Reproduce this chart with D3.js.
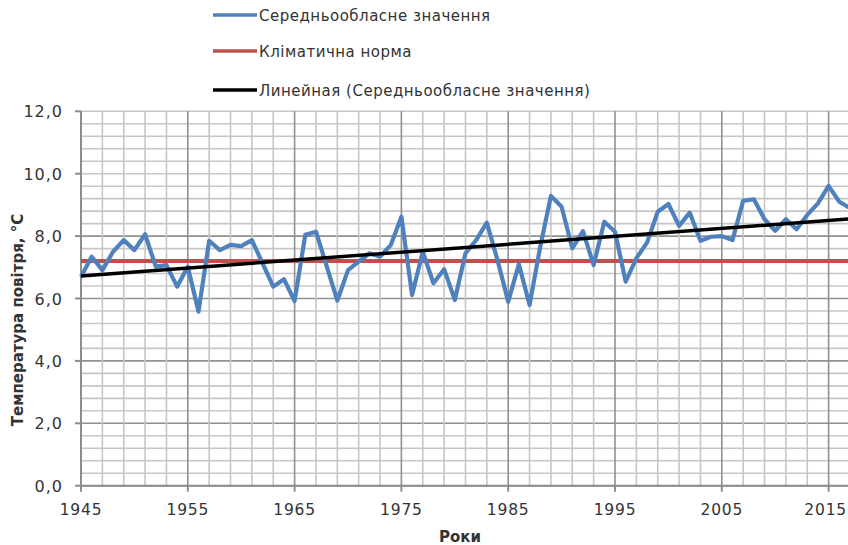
<!DOCTYPE html>
<html>
<head>
<meta charset="utf-8">
<script src="https://cdn.jsdelivr.net/npm/d3@7"></script>
<style>
  body { margin: 0; background: #fff; }
  text { font-family: "DejaVu Sans", sans-serif; fill: #333; }
</style>
</head>
<body>
<script>
const years = d3.range(1945, 2018)
const temps = [
  6.70, 7.34, 6.91, 7.50, 7.87, 7.55, 8.06, 7.02, 7.07, 6.38,
  7.02, 5.58, 7.85, 7.55, 7.72, 7.68, 7.87, 7.13, 6.38, 6.62,
  5.92, 8.04, 8.14, 7.04, 5.93, 6.91, 7.18, 7.45, 7.34, 7.71,
  8.62, 6.11, 7.50, 6.49, 6.94, 5.95, 7.45, 7.87, 8.43, 7.23,
  5.90, 7.10, 5.79, 7.66, 9.29, 8.94, 7.61, 8.16, 7.07, 8.46,
  8.14, 6.54, 7.29, 7.79, 8.78, 9.03, 8.33, 8.75, 7.85, 7.98,
  8.00, 7.87, 9.13, 9.18, 8.54, 8.17, 8.54, 8.22, 8.68, 9.05,
  9.61, 9.10, 8.90
]
const norm = 7.2
const yTicks = [0, 2, 4, 6, 8, 10, 12]
const xTicks = [1945, 1955, 1965, 1975, 1985, 1995, 2005, 2015]
const legendLabels = ["Середньообласне значення", "Кліматична норма", "Линейная (Середньообласне значення)"]

const W = 848, H = 545
const svg = d3.select("body").append("svg")
    .attr("width", W)
    .attr("height", H)

const x = d3.scaleLinear().domain([1945, 2015]).range([81, 828.6])
const y = d3.scaleLinear().domain([0, 12]).range([485.7, 111.3])

// сітка
const minorY = d3.range(0, 12.01, 0.4)
svg.append("g").selectAll("line")
    .data(minorY)
    .enter().append("line")
    .attr("x1", x(1945)).attr("x2", W)
    .attr("y1", d => y(d)).attr("y2", d => y(d))
    .attr("stroke", d => Math.abs(d / 2 - Math.round(d / 2)) < 0.01 && d < 9 ? "#909090" : "#c6c6c6")
    .attr("stroke-width", 1.6)

const minorX = d3.range(1947, 2018, 2)
svg.append("g").selectAll("line")
    .data(minorX)
    .enter().append("line")
    .attr("x1", d => x(d)).attr("x2", d => x(d))
    .attr("y1", y(12)).attr("y2", y(0))
    .attr("stroke", d => (d - 1945) % 10 === 0 ? "#909090" : "#c6c6c6")
    .attr("stroke-width", 1.6)

// осі
svg.append("line")
    .attr("x1", x(1945)).attr("x2", x(1945))
    .attr("y1", y(12)).attr("y2", y(0))
    .attr("stroke", "#8c8c8c").attr("stroke-width", 2)
svg.append("line")
    .attr("x1", x(1945)).attr("x2", W)
    .attr("y1", y(0)).attr("y2", y(0))
    .attr("stroke", "#8c8c8c").attr("stroke-width", 2)

svg.append("g").selectAll("line")
    .data(yTicks)
    .enter().append("line")
    .attr("x1", x(1945) - 6).attr("x2", x(1945))
    .attr("y1", d => y(d)).attr("y2", d => y(d))
    .attr("stroke", "#8c8c8c").attr("stroke-width", 2)

svg.append("g").selectAll("line")
    .data(xTicks)
    .enter().append("line")
    .attr("x1", d => x(d)).attr("x2", d => x(d))
    .attr("y1", y(0)).attr("y2", y(0) + 6)
    .attr("stroke", "#8c8c8c").attr("stroke-width", 2)

svg.append("g").selectAll("text")
    .data(yTicks)
    .enter().append("text")
    .attr("x", 63)
    .attr("y", d => y(d) + 6)
    .attr("text-anchor", "end")
    .style("font-size", "16px")
    .style("letter-spacing", "1px")
    .text(d => d.toFixed(1).replace(".", ","))

svg.append("g").selectAll("text")
    .data(xTicks)
    .enter().append("text")
    .attr("x", d => x(d))
    .attr("y", 515)
    .attr("text-anchor", "middle")
    .style("font-size", "15.5px")
    .style("letter-spacing", "0.8px")
    .text(d => d)
    .each(function (d) {
        // не виходити за правий край
        const w = this.getComputedTextLength()
        if (x(d) + w / 2 > W - 1) d3.select(this).attr("x", W - 1 - w / 2)
    })

svg.append("text")
    .attr("x", 460).attr("y", 542)
    .attr("text-anchor", "middle")
    .style("font-size", "15px")
    .style("font-weight", "bold")
    .text("Роки")

svg.append("text")
    .attr("transform", "translate(23,320) rotate(-90)")
    .attr("text-anchor", "middle")
    .style("font-size", "15px")
    .style("font-weight", "bold")
    .text("Температура повітря, °С")

// лінійний тренд
const reg = (() => {
    const mx = d3.mean(years), my = d3.mean(temps)
    const b = d3.sum(years, (d, i) => (d - mx) * (temps[i] - my)) / d3.sum(years, d => (d - mx) ** 2)
    return { a: my - b * mx, b: b }
})()

const line = d3.line().x(d => x(d[0])).y(d => y(d[1]))

svg.append("path")
    .datum(years.map(d => [d, norm]))
    .attr("d", line)
    .attr("fill", "none")
    .attr("stroke", "#C0504D")
    .attr("stroke-width", 4)

svg.append("path")
    .datum(years.map((d, i) => [d, temps[i]]))
    .attr("d", line)
    .attr("fill", "none")
    .attr("stroke", "#4F81BD")
    .attr("stroke-width", 4.2)
    .attr("stroke-linejoin", "round")

svg.append("path")
    .datum([years[0], years[years.length - 1]].map(d => [d, reg.a + reg.b * d]))
    .attr("d", line)
    .attr("fill", "none")
    .attr("stroke", "#000")
    .attr("stroke-width", 3.5)

// легенда
const legendColors = ["#4F81BD", "#C0504D", "#000"]
const lg = svg.append("g").selectAll("g")
    .data(legendLabels)
    .enter().append("g")
    .attr("transform", (d, i) => `translate(213,${[15, 51, 90][i]})`)
lg.append("line")
    .attr("x1", 0).attr("x2", 44)
    .attr("stroke", (d, i) => legendColors[i])
    .attr("stroke-width", 3.5)
lg.append("text")
    .attr("x", 46).attr("y", 6)
    .style("font-size", "15px")
    .style("letter-spacing", "0.5px")
    .text(d => d)
</script>
</body>
</html>
